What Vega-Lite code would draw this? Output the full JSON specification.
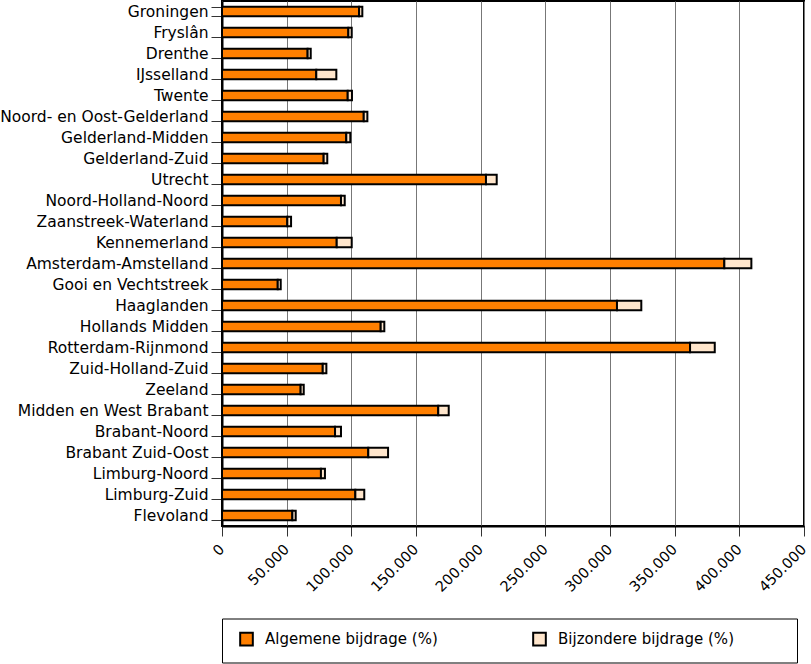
{
  "$schema": "https://vega.github.io/schema/vega-lite/v6.json",
  "width": 582,
  "height": 525,
  "autosize": {"type": "none"},
  "padding": {"left": 222, "top": 1, "right": 7, "bottom": 138},
  "background": "white",
  "data": {
    "values": [
      {"regio": "Groningen", "soort": "Algemene bijdrage (%)", "waarde": 106000, "volg": 1},
      {"regio": "Groningen", "soort": "Bijzondere bijdrage (%)", "waarde": 2500, "volg": 2},
      {"regio": "Fryslân", "soort": "Algemene bijdrage (%)", "waarde": 97700, "volg": 1},
      {"regio": "Fryslân", "soort": "Bijzondere bijdrage (%)", "waarde": 2600, "volg": 2},
      {"regio": "Drenthe", "soort": "Algemene bijdrage (%)", "waarde": 66200, "volg": 1},
      {"regio": "Drenthe", "soort": "Bijzondere bijdrage (%)", "waarde": 2400, "volg": 2},
      {"regio": "IJsselland", "soort": "Algemene bijdrage (%)", "waarde": 72900, "volg": 1},
      {"regio": "IJsselland", "soort": "Bijzondere bijdrage (%)", "waarde": 15500, "volg": 2},
      {"regio": "Twente", "soort": "Algemene bijdrage (%)", "waarde": 97200, "volg": 1},
      {"regio": "Twente", "soort": "Bijzondere bijdrage (%)", "waarde": 3300, "volg": 2},
      {"regio": "Noord- en Oost-Gelderland", "soort": "Algemene bijdrage (%)", "waarde": 109600, "volg": 1},
      {"regio": "Noord- en Oost-Gelderland", "soort": "Bijzondere bijdrage (%)", "waarde": 2800, "volg": 2},
      {"regio": "Gelderland-Midden", "soort": "Algemene bijdrage (%)", "waarde": 96100, "volg": 1},
      {"regio": "Gelderland-Midden", "soort": "Bijzondere bijdrage (%)", "waarde": 3100, "volg": 2},
      {"regio": "Gelderland-Zuid", "soort": "Algemene bijdrage (%)", "waarde": 78600, "volg": 1},
      {"regio": "Gelderland-Zuid", "soort": "Bijzondere bijdrage (%)", "waarde": 2800, "volg": 2},
      {"regio": "Utrecht", "soort": "Algemene bijdrage (%)", "waarde": 204100, "volg": 1},
      {"regio": "Utrecht", "soort": "Bijzondere bijdrage (%)", "waarde": 8300, "volg": 2},
      {"regio": "Noord-Holland-Noord", "soort": "Algemene bijdrage (%)", "waarde": 92000, "volg": 1},
      {"regio": "Noord-Holland-Noord", "soort": "Bijzondere bijdrage (%)", "waarde": 2900, "volg": 2},
      {"regio": "Zaanstreek-Waterland", "soort": "Algemene bijdrage (%)", "waarde": 50500, "volg": 1},
      {"regio": "Zaanstreek-Waterland", "soort": "Bijzondere bijdrage (%)", "waarde": 2900, "volg": 2},
      {"regio": "Kennemerland", "soort": "Algemene bijdrage (%)", "waarde": 88700, "volg": 1},
      {"regio": "Kennemerland", "soort": "Bijzondere bijdrage (%)", "waarde": 11600, "volg": 2},
      {"regio": "Amsterdam-Amstelland", "soort": "Algemene bijdrage (%)", "waarde": 388400, "volg": 1},
      {"regio": "Amsterdam-Amstelland", "soort": "Bijzondere bijdrage (%)", "waarde": 20900, "volg": 2},
      {"regio": "Gooi en Vechtstreek", "soort": "Algemene bijdrage (%)", "waarde": 43100, "volg": 1},
      {"regio": "Gooi en Vechtstreek", "soort": "Bijzondere bijdrage (%)", "waarde": 2300, "volg": 2},
      {"regio": "Haaglanden", "soort": "Algemene bijdrage (%)", "waarde": 305400, "volg": 1},
      {"regio": "Haaglanden", "soort": "Bijzondere bijdrage (%)", "waarde": 18800, "volg": 2},
      {"regio": "Hollands Midden", "soort": "Algemene bijdrage (%)", "waarde": 122700, "volg": 1},
      {"regio": "Hollands Midden", "soort": "Bijzondere bijdrage (%)", "waarde": 2800, "volg": 2},
      {"regio": "Rotterdam-Rijnmond", "soort": "Algemene bijdrage (%)", "waarde": 361900, "volg": 1},
      {"regio": "Rotterdam-Rijnmond", "soort": "Bijzondere bijdrage (%)", "waarde": 19100, "volg": 2},
      {"regio": "Zuid-Holland-Zuid", "soort": "Algemene bijdrage (%)", "waarde": 77900, "volg": 1},
      {"regio": "Zuid-Holland-Zuid", "soort": "Bijzondere bijdrage (%)", "waarde": 2800, "volg": 2},
      {"regio": "Zeeland", "soort": "Algemene bijdrage (%)", "waarde": 60800, "volg": 1},
      {"regio": "Zeeland", "soort": "Bijzondere bijdrage (%)", "waarde": 2400, "volg": 2},
      {"regio": "Midden en West Brabant", "soort": "Algemene bijdrage (%)", "waarde": 167200, "volg": 1},
      {"regio": "Midden en West Brabant", "soort": "Bijzondere bijdrage (%)", "waarde": 8100, "volg": 2},
      {"regio": "Brabant-Noord", "soort": "Algemene bijdrage (%)", "waarde": 87400, "volg": 1},
      {"regio": "Brabant-Noord", "soort": "Bijzondere bijdrage (%)", "waarde": 4600, "volg": 2},
      {"regio": "Brabant Zuid-Oost", "soort": "Algemene bijdrage (%)", "waarde": 113100, "volg": 1},
      {"regio": "Brabant Zuid-Oost", "soort": "Bijzondere bijdrage (%)", "waarde": 15300, "volg": 2},
      {"regio": "Limburg-Noord", "soort": "Algemene bijdrage (%)", "waarde": 76500, "volg": 1},
      {"regio": "Limburg-Noord", "soort": "Bijzondere bijdrage (%)", "waarde": 3100, "volg": 2},
      {"regio": "Limburg-Zuid", "soort": "Algemene bijdrage (%)", "waarde": 103100, "volg": 1},
      {"regio": "Limburg-Zuid", "soort": "Bijzondere bijdrage (%)", "waarde": 6900, "volg": 2},
      {"regio": "Flevoland", "soort": "Algemene bijdrage (%)", "waarde": 54400, "volg": 1},
      {"regio": "Flevoland", "soort": "Bijzondere bijdrage (%)", "waarde": 2600, "volg": 2}
    ]
  },
  "mark": {"type": "bar", "stroke": "black", "strokeWidth": 2},
  "encoding": {
    "y": {
      "field": "regio",
      "type": "nominal",
      "sort": null,
      "title": null,
      "scale": {"paddingInner": 0.55, "paddingOuter": 0.275},
      "axis": {
        "tickBand": "extent",
        "tickSize": 11,
        "tickColor": "#333",
        "labelPadding": 3,
        "labelFont": "DejaVu Sans",
        "labelFontSize": 15.5,
        "labelColor": "black",
        "labelLimit": 300,
        "labelBaseline": "middle",
        "domainColor": "black",
        "domainWidth": 2,
        "grid": false
      }
    },
    "x": {
      "field": "waarde",
      "type": "quantitative",
      "stack": "zero",
      "title": null,
      "scale": {"domain": [0, 450000], "nice": false, "zero": true},
      "axis": {
        "values": [0, 50000, 100000, 150000, 200000, 250000, 300000, 350000, 400000, 450000],
        "labelExpr": "replace(format(datum.value, ','), ',', '.')",
        "labelAngle": -45,
        "labelAlign": "right",
        "labelBaseline": "middle",
        "labelPadding": 11,
        "labelFont": "DejaVu Sans",
        "labelFontSize": 14.5,
        "labelColor": "black",
        "tickSize": 10,
        "tickColor": "#333",
        "domainColor": "black",
        "domainWidth": 2,
        "grid": true,
        "gridColor": "#777",
        "gridWidth": 1,
        "labelFlush": false,
        "labelOverlap": false
      }
    },
    "color": {
      "field": "soort",
      "type": "nominal",
      "scale": {
        "domain": ["Algemene bijdrage (%)", "Bijzondere bijdrage (%)"],
        "range": ["#FF7F00", "#FFE6CC"]
      },
      "legend": {
        "orient": "none",
        "legendX": 0,
        "legendY": 617.5,
        "direction": "horizontal",
        "columns": 2,
        "title": " ",
        "titleOrient": "right",
        "titlePadding": 50,
        "titleFontSize": 10,
        "strokeColor": "black",
        "padding": 13,
        "columnPadding": 90,
        "symbolType": "square",
        "symbolSize": 160,
        "symbolStrokeColor": "black",
        "symbolStrokeWidth": 2,
        "symbolOffset": 4,
        "labelFont": "DejaVu Sans",
        "labelFontSize": 15,
        "labelColor": "black",
        "labelOffset": 11,
        "labelLimit": 300
      }
    },
    "order": {"field": "volg", "type": "quantitative"}
  },
  "config": {
    "view": {"stroke": "black", "strokeWidth": 2}
  }
}
